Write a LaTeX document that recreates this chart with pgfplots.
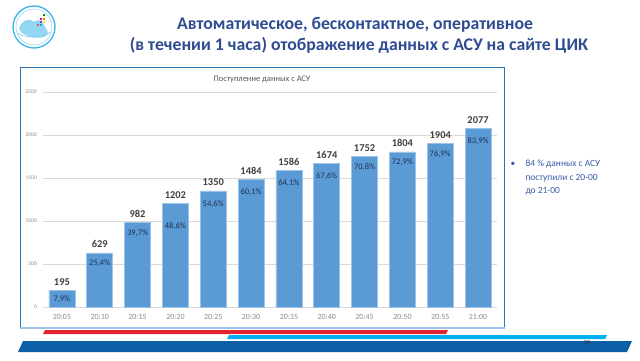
\documentclass[border=0pt]{standalone}
\usepackage{fontspec}
\setmainfont{Carlito}
\usepackage{pgfplots}
\pgfplotsset{compat=1.18}
\usepackage{pgfplotstable}

\definecolor{barblue}{HTML}{5B9BD5}
\definecolor{baredge}{HTML}{9DC3E6}
\definecolor{titleblue}{HTML}{2F4B91}
\definecolor{boxblue}{HTML}{2E75B6}
\definecolor{gridgray}{HTML}{D9D9D9}
\definecolor{ticklab}{HTML}{8C8C8C}
\definecolor{vallab}{HTML}{404040}
\definecolor{pctlab}{HTML}{1F2F4F}
\definecolor{textblue}{HTML}{3A5BA8}
\definecolor{stripered}{HTML}{E0242F}
\definecolor{stripecyan}{HTML}{00B0F0}
\definecolor{stripeblue}{HTML}{0B5FA5}
\definecolor{logoblue}{HTML}{3BB4E8}

\pgfplotstableread{
x y pct off
0 195 7.9 9
1 629 25.4 10
2 982 39.7 11
3 1202 48.6 23
4 1350 54.6 13
5 1484 60.1 13
6 1586 64.1 13
7 1674 67.6 13
8 1752 70.8 11
9 1804 72.9 10
10 1904 76.9 11
11 2077 83.9 13
}\datatable

\begin{document}
\begin{tikzpicture}[x=1bp,y=1bp]
\useasboundingbox (0,0) rectangle (640,360);
\fill[white] (0,0) rectangle (640,360);

% logo
\draw[logoblue, line width=1.3bp] (34,333) circle (21);
\draw[logoblue!60, line width=0.5bp] (34,333) circle (18);
\fill[logoblue!55] (20,334) .. controls (24,341) and (30,342) .. (34,338)
  .. controls (38,341) and (42,340) .. (44,335) .. controls (47,330) and (50,327) .. (46,324)
  .. controls (40,321) and (30,322) .. (24,326) .. controls (20,328) and (18,331) .. (20,334) -- cycle;
\draw[logoblue!70, line width=0.6bp] (17,327) .. controls (25,322) and (40,321) .. (51,328);
\fill[green!60!black] (43,344) rectangle (45,346);
\fill[magenta] (40,340) rectangle (42,342);
\fill[orange] (43,340) rectangle (45,342);
\fill[blue!70] (40,337) rectangle (42,339);
\fill[yellow!80!orange] (43,337) rectangle (45,339);
\fill[red!70] (37,334) rectangle (39,336);
\fill[cyan] (40,334) rectangle (42,336);

% title
\node[font=\fontsize{17.8}{20}\bfseries\selectfont, text=titleblue] at (355,335) {Автоматическое, бесконтактное, оперативное};
\node[font=\fontsize{17.8}{20}\bfseries\selectfont, text=titleblue] at (359,315) {(в течении 1 часа) отображение данных с АСУ на сайте ЦИК};

% chart box
\draw[boxblue, line width=1bp] (20,293) rectangle (504,33);
\draw[baredge, line width=2bp] (20,32) -- (505,32);

% chart title
\node[font=\fontsize{8.5}{10}\selectfont, text=black!65] at (262,281) {Поступление данных с АСУ};

\begin{axis}[
  at={(43bp,53bp)}, anchor=south west,
  scale only axis, width=454bp, height=215bp,
  ybar, bar shift=0pt, bar width=26bp,
  xmin=-0.5, xmax=11.5, ymin=0, ymax=2500,
  enlargelimits=false, clip=false,
  axis line style={draw=none},
  major tick length=0pt,
  ymajorgrids, grid style={draw=gridgray, line width=0.6bp},
  ytick={0,500,1000,1500,2000,2500},
  xtick={0,...,11},
  xticklabels={20:05,20:10,20:15,20:20,20:25,20:30,20:35,20:40,20:45,20:50,20:55,21:00},
  /pgf/number format/assume math mode=true,
  /pgf/number format/1000 sep={},
  yticklabel style={font=\fontsize{5.5}{6}\selectfont, text=ticklab, anchor=east, inner sep=0pt, xshift=-6bp},
  xticklabel style={font=\fontsize{8}{9}\selectfont, text=ticklab, anchor=north, inner sep=0pt, yshift=-7bp},
]
\addplot[fill=barblue, draw=baredge, line width=0.6bp, bar shift=0pt,
  nodes near coords,
  nodes near coords style={anchor=center, yshift=8.5bp, font=\fontsize{10.5}{12}\bfseries\selectfont, text=vallab}]
  table[x=x, y=y] {\datatable};
\addplot[fill=none, draw=none, bar shift=0pt,
  point meta=\thisrow{pct},
  visualization depends on={\thisrow{off}\as\off},
  nodes near coords={\pgfmathprintnumber[fixed, fixed zerofill, precision=1, use comma]{\pgfplotspointmeta}\%},
  nodes near coords style={anchor=center, yshift={-\off*1pt}, font=\fontsize{8.5}{10}\selectfont, text=pctlab}]
  table[x=x, y=y] {\datatable};
\end{axis}

% right text
\node[font=\fontsize{9.5}{11}\selectfont, text=textblue, anchor=base] at (513,194) {•};
\node[font=\fontsize{9.5}{11}\selectfont, text=textblue, anchor=base west] at (522,194) {84 \% данных с АСУ};
\node[font=\fontsize{9.5}{11}\selectfont, text=textblue, anchor=base west] at (522,180) {поступили с 20-00};
\node[font=\fontsize{9.5}{11}\selectfont, text=textblue, anchor=base west] at (522,167) {до 21-00};

% bottom stripes
\fill[stripered] (45,30) -- (448,30) -- (446,26) -- (43,26) -- cycle;
\fill[stripecyan] (229,25) -- (607,25) -- (605,21) -- (227,21) -- cycle;
\fill[stripeblue] (23,19) -- (632,19) -- (627,8) -- (18,8) -- cycle;
\node[font=\fontsize{6}{7}\selectfont, text=black!80] at (587,17) {39};
\end{tikzpicture}
\end{document}
